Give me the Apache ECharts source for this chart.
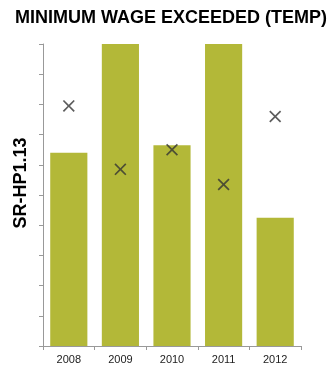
<!DOCTYPE html>
<html lang="en">
<head>
    <meta charset="UTF-8">
    <title>Minimum wage exceeded</title>
    <script src="https://cdn.jsdelivr.net/npm/echarts@6/dist/echarts.min.js" type="text/javascript"></script>
    <style>
        html, body { margin: 0; padding: 0; background: #fff; }
    </style>
</head>
<body>
<div id="main" style="width: 335px;height:373px;"></div>
<script type="text/javascript">
    // categories and values (y axis has no labels, 0..10 scale)
    var years = ['2008', '2009', '2010', '2011', '2012'];
    var barValues = [6.4, 10, 6.65, 10, 4.25];
    var markValues = [7.95, 5.85, 6.5, 5.35, 7.6];
    var yTicks = [0, 1, 2, 3, 4, 5, 6, 7, 8, 9, 10];

    var myChart = echarts.init(document.getElementById('main'));
    var crossPath = 'path://M0,1L1,0L5,4L9,0L10,1L6,5L10,9L9,10L5,6L1,10L0,9L4,5Z';
    var font = 'Liberation Sans, Arial, sans-serif';

    myChart.setOption({
        animation: false,
        title: {
            text: 'MINIMUM WAGE EXCEEDED (TEMP)',
            left: 10,
            top: 4,
            textStyle: {
                fontFamily: font,
                fontSize: 18,
                fontWeight: 'bold',
                color: '#000'
            }
        },
        // y axis title sits a bit above the middle of the axis
        graphic: [{
            type: 'text',
            x: 21,
            y: 183,
            rotation: Math.PI / 2,
            style: {
                text: 'SR-HP1.13',
                fontFamily: font,
                fontSize: 18,
                fontWeight: 'bold',
                fill: '#000',
                align: 'center',
                verticalAlign: 'middle'
            }
        }],
        grid: {
            left: 43,
            right: 34,
            top: 44,
            bottom: 27
        },
        xAxis: {
            type: 'category',
            data: years,
            axisLine: { lineStyle: { color: '#999', width: 1 } },
            axisTick: { show: true, length: 4, lineStyle: { color: '#999' } },
            axisLabel: {
                fontFamily: font,
                fontSize: 11,
                color: '#222',
                margin: 8
            }
        },
        yAxis: {
            type: 'value',
            min: yTicks[0],
            max: yTicks[yTicks.length - 1],
            interval: 1,
            axisLine: { show: true, lineStyle: { color: '#999', width: 1 } },
            axisTick: { show: true, length: 4, lineStyle: { color: '#999' } },
            axisLabel: { show: false },
            splitLine: { show: false }
        },
        series: [
            {
                name: 'bars',
                type: 'bar',
                data: barValues,
                barWidth: '72%',
                itemStyle: { color: '#b3b838' }
            },
            {
                name: 'marks',
                type: 'scatter',
                data: markValues,
                symbol: crossPath,
                symbolSize: 12,
                itemStyle: { color: '#333' },
                z: 5
            }
        ]
    });
</script>
</body>
</html>
